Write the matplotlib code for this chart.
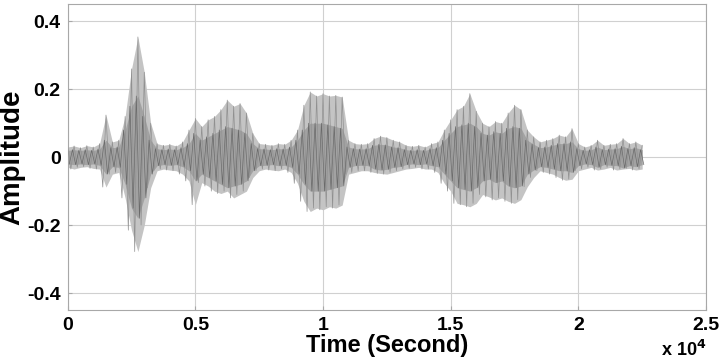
import numpy as np
import matplotlib
matplotlib.use("Agg")
import matplotlib.pyplot as plt

# Envelope of the waveform, read every 250 samples (0 .. 22500)
step = 250
upper = [0.030, 0.033, 0.028, 0.034, 0.030, 0.040, 0.124, 0.045, 0.050, 0.120,
         0.260, 0.354, 0.250, 0.100, 0.040, 0.035, 0.038, 0.033, 0.045, 0.080,
         0.114, 0.090, 0.110, 0.120, 0.140, 0.168, 0.150, 0.158, 0.130, 0.070,
         0.040, 0.038, 0.035, 0.040, 0.038, 0.050, 0.080, 0.153, 0.192, 0.180,
         0.187, 0.180, 0.182, 0.177, 0.050, 0.040, 0.038, 0.040, 0.055, 0.062,
         0.058, 0.050, 0.045, 0.035, 0.032, 0.035, 0.030, 0.040, 0.045, 0.080,
         0.110, 0.140, 0.150, 0.187, 0.135, 0.100, 0.090, 0.105, 0.100, 0.130,
         0.153, 0.140, 0.080, 0.060, 0.045, 0.050, 0.055, 0.065, 0.060, 0.084,
         0.040, 0.030, 0.035, 0.050, 0.035, 0.038, 0.040, 0.055, 0.040, 0.045,
         0.035]
lower = [-0.030, -0.035, -0.030, -0.028, -0.033, -0.035, -0.088, -0.050, -0.045, -0.120,
         -0.215, -0.278, -0.200, -0.090, -0.040, -0.035, -0.038, -0.040, -0.050, -0.070,
         -0.140, -0.075, -0.085, -0.100, -0.107, -0.100, -0.120, -0.110, -0.100, -0.060,
         -0.040, -0.035, -0.038, -0.040, -0.035, -0.045, -0.077, -0.130, -0.160, -0.150,
         -0.155, -0.146, -0.150, -0.141, -0.050, -0.045, -0.040, -0.040, -0.045, -0.048,
         -0.050, -0.045, -0.040, -0.035, -0.033, -0.030, -0.035, -0.035, -0.045, -0.077,
         -0.100, -0.136, -0.140, -0.146, -0.136, -0.110, -0.117, -0.126, -0.120, -0.130,
         -0.136, -0.125, -0.087, -0.060, -0.040, -0.045, -0.050, -0.060, -0.068, -0.065,
         -0.040, -0.035, -0.030, -0.038, -0.035, -0.030, -0.038, -0.035, -0.033, -0.038,
         -0.035]
# half-width of the dense (darker) core of the waveform, same sample grid
core = [0.020, 0.022, 0.020, 0.022, 0.020, 0.024, 0.050, 0.028, 0.030, 0.080,
        0.150, 0.180, 0.120, 0.050, 0.025, 0.022, 0.024, 0.022, 0.028, 0.040,
        0.070, 0.050, 0.060, 0.070, 0.080, 0.090, 0.085, 0.080, 0.070, 0.040,
        0.025, 0.024, 0.022, 0.025, 0.024, 0.030, 0.050, 0.080, 0.100, 0.100,
        0.100, 0.095, 0.090, 0.085, 0.030, 0.025, 0.024, 0.025, 0.035, 0.038,
        0.036, 0.030, 0.028, 0.022, 0.020, 0.022, 0.020, 0.025, 0.028, 0.050,
        0.070, 0.090, 0.095, 0.100, 0.090, 0.070, 0.065, 0.075, 0.070, 0.085,
        0.090, 0.085, 0.050, 0.038, 0.028, 0.030, 0.035, 0.040, 0.040, 0.045,
        0.025, 0.020, 0.022, 0.030, 0.022, 0.024, 0.025, 0.032, 0.025, 0.028,
        0.022]
x_ticks = [0, 5000, 10000, 15000, 20000, 25000]
x_tick_labels = ["0", "0.5", "1", "1.5", "2", "2.5"]
y_ticks = [-0.4, -0.2, 0, 0.2, 0.4]
y_tick_labels = ["-0.4", "-0.2", "0", "0.2", "0.4"]

upper = np.array(upper)
lower = np.array(lower)
core = np.array(core)
samples = np.arange(len(upper)) * step

plt.rcParams['font.family'] = ['Liberation Sans', 'DejaVu Sans']
plt.rcParams['font.weight'] = 'bold'

fig = plt.figure(figsize=(7.2, 3.61), dpi=100)
ax = fig.add_axes([0.094, 0.1413, 0.8866, 0.8467])

ax.fill_between(samples, lower, upper, color='#c4c4c4', linewidth=0, zorder=2)
ax.fill_between(samples, -core, core, color='#a2a2a2', linewidth=0, zorder=3)
# zig-zag strokes between upper and lower envelopes
zx = np.empty(2 * len(samples))
zy = np.empty(2 * len(samples))
zx[0::2] = samples
zx[1::2] = samples + step / 2
zy[0::2] = upper
zy[1::2] = np.concatenate([lower[1:], lower[-1:]])
ax.plot(zx[:-1], zy[:-1], color='#909090', linewidth=0.5, zorder=4)
# darker strokes inside the core
cx = np.empty(2 * len(samples))
cy = np.empty(2 * len(samples))
cx[0::2] = samples + step / 4
cx[1::2] = samples + 3 * step / 4
cy[0::2] = -core
cy[1::2] = np.concatenate([core[1:], core[-1:]])
ax.plot(cx[:-1], cy[:-1], color='#6a6a6a', linewidth=0.5, zorder=5)

ax.set_xlim(0, 25000)
ax.set_ylim(-0.45, 0.45)
ax.set_xticks(x_ticks)
ax.set_xticklabels(x_tick_labels)
ax.set_yticks(y_ticks)
ax.set_yticklabels(y_tick_labels)
ax.grid(True, color='#d0d0d0', linewidth=0.8, zorder=0)
ax.set_axisbelow(True)
for sp in ax.spines.values():
    sp.set_color('#a8a8a8')
    sp.set_linewidth(0.8)
ax.tick_params(direction='in', length=3, color='#a8a8a8', labelsize=14, pad=5)
for lab in ax.get_xticklabels() + ax.get_yticklabels():
    lab.set_fontweight('bold')

ax.set_xlabel("Time (Second)", fontsize=17, fontweight='bold', labelpad=0)
ax.set_ylabel("Amplitude", fontsize=20, fontweight='bold', labelpad=1)
fig.text(0.918, 0.004, r"x 10$^{\mathbf{4}}$", fontsize=13, fontweight='bold', ha='left', va='bottom')

fig.savefig("out.png", dpi=100)
